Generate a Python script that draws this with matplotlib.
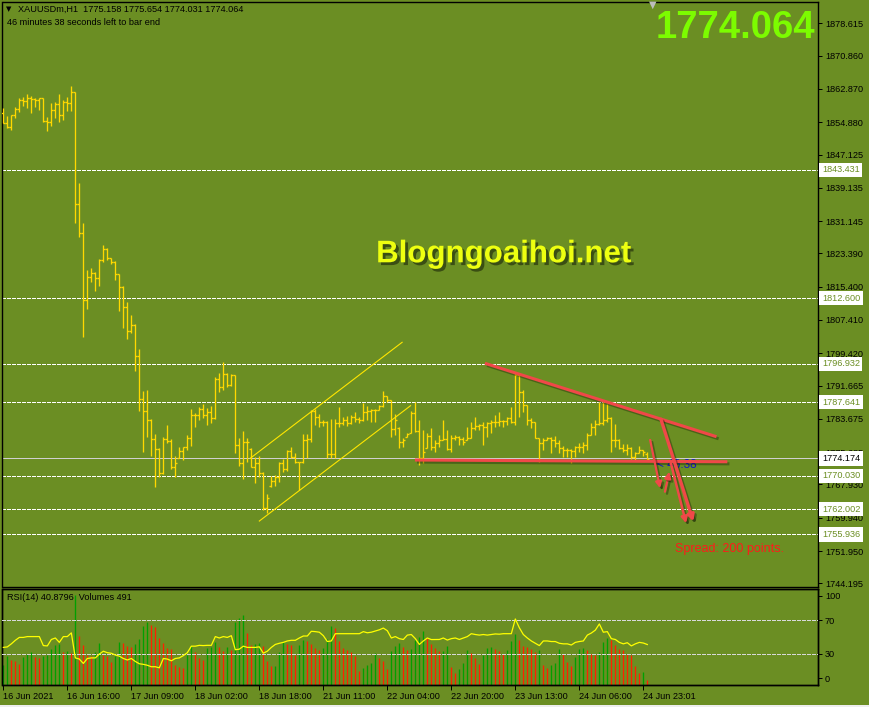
import numpy as np
import matplotlib
matplotlib.use("Agg")
import matplotlib.pyplot as plt
import matplotlib.patheffects as pe
from matplotlib.patches import Rectangle

# ---------------- data ----------------
SYMBOL_HEADER = "XAUUSDm,H1  1775.158 1775.654 1774.031 1774.064"
TIMER_HEADER = "46 minutes 38 seconds left to bar end"
LAST_PRICE = "1774.064"
RSI_HEADER = "RSI(14) 40.8796  Volumes 491"

bar_open = [1857.00, 1854.61, 1853.81, 1856.61, 1857.97, 1860.21, 1859.97, 1860.61, 1860.37, 1860.21,
            1860.61, 1855.17, 1855.01, 1857.81, 1859.17, 1856.61, 1859.81, 1859.41, 1862.21, 1835.17,
            1828.21, 1812.21, 1817.65, 1818.77, 1817.41, 1821.81, 1824.37, 1822.21, 1821.41, 1818.37,
            1815.41, 1810.45, 1804.85, 1806.21, 1798.77, 1788.37, 1785.57, 1783.41, 1778.77, 1776.45,
            1770.61, 1778.85, 1778.45, 1772.21, 1774.30, 1776.05, 1776.85, 1779.01, 1784.61, 1784.61,
            1785.97, 1784.61, 1785.25, 1783.81, 1793.25, 1791.41, 1794.45, 1791.81, 1794.21, 1777.41,
            1773.17, 1778.21, 1776.50, 1772.21, 1773.01, 1770.77, 1762.21, 1767.60, 1768.85, 1769.81,
            1773.17, 1771.57, 1775.97, 1774.61, 1773.25, 1773.25, 1778.61, 1778.85, 1785.65, 1784.05,
            1783.01, 1783.01, 1775.25, 1775.25, 1782.61, 1782.77, 1783.41, 1782.77, 1784.05, 1783.57,
            1783.41, 1785.41, 1785.57, 1785.81, 1785.81, 1786.77, 1789.17, 1788.21, 1781.17, 1781.50,
            1778.05, 1779.30, 1780.30, 1785.01, 1780.77, 1774.37, 1776.70, 1779.57, 1776.85, 1777.97,
            1778.61, 1778.77, 1776.37, 1779.01, 1779.25, 1778.77, 1778.70, 1779.17, 1781.41, 1781.97,
            1782.21, 1781.65, 1782.61, 1783.01, 1783.01, 1783.25, 1783.25, 1783.81, 1783.01, 1794.21,
            1790.21, 1787.01, 1783.41, 1783.01, 1779.01, 1777.81, 1778.61, 1779.01, 1778.61, 1777.81,
            1776.61, 1776.21, 1776.21, 1776.05, 1777.01, 1777.01, 1777.41, 1779.81, 1781.81, 1782.45,
            1782.61, 1783.41, 1783.81, 1778.61, 1778.61, 1776.77, 1776.21, 1776.61, 1774.61, 1775.41,
            1776.21, 1775.158]

bar_high = [1858.21, 1856.37, 1856.61, 1858.45, 1860.61, 1861.01, 1861.65, 1861.17, 1860.61, 1860.61,
            1860.61, 1856.05, 1859.41, 1859.65, 1861.65, 1860.21, 1861.01, 1863.57, 1862.21, 1840.21,
            1830.61, 1819.41, 1819.81, 1819.01, 1822.05, 1825.41, 1824.61, 1822.21, 1821.57, 1818.45,
            1815.57, 1811.81, 1808.61, 1806.45, 1800.45, 1790.45, 1790.61, 1783.57, 1780.05, 1776.77,
            1779.41, 1782.21, 1778.85, 1774.77, 1777.01, 1777.01, 1779.81, 1786.05, 1785.17, 1786.61,
            1787.25, 1786.21, 1786.77, 1793.81, 1794.77, 1797.41, 1794.77, 1794.45, 1794.21, 1779.01,
            1780.85, 1779.01, 1776.61, 1774.61, 1774.77, 1771.01, 1765.65, 1769.97, 1770.21, 1773.25,
            1773.97, 1776.21, 1776.85, 1775.41, 1773.41, 1779.97, 1779.97, 1785.81, 1785.97, 1784.77,
            1783.41, 1783.17, 1783.57, 1783.57, 1786.45, 1784.21, 1784.37, 1784.53, 1785.41, 1784.05,
            1787.57, 1786.77, 1786.05, 1786.05, 1787.01, 1790.37, 1789.25, 1788.21, 1784.77, 1781.81,
            1779.01, 1780.21, 1785.49, 1787.73, 1783.41, 1781.01, 1780.21, 1781.41, 1778.61, 1779.81,
            1783.41, 1781.01, 1779.81, 1779.81, 1779.57, 1779.25, 1781.81, 1783.01, 1784.21, 1782.45,
            1783.01, 1783.01, 1783.41, 1784.61, 1785.41, 1783.41, 1784.21, 1786.61, 1795.01, 1794.61,
            1790.61, 1787.01, 1783.81, 1783.01, 1779.01, 1779.01, 1779.41, 1779.25, 1779.57, 1778.61,
            1777.17, 1776.77, 1776.37, 1777.17, 1777.81, 1778.21, 1780.21, 1782.77, 1783.41, 1787.81,
            1788.05, 1787.25, 1784.21, 1782.45, 1778.77, 1777.65, 1777.65, 1777.01, 1775.81, 1777.25,
            1776.21, 1775.654]

bar_low = [1854.61, 1853.41, 1853.01, 1855.81, 1857.41, 1858.77, 1858.21, 1857.01, 1858.61, 1857.81,
           1855.01, 1852.85, 1854.05, 1855.97, 1855.01, 1855.41, 1857.65, 1857.65, 1830.77, 1827.25,
           1803.41, 1809.97, 1816.61, 1814.45, 1815.65, 1821.41, 1821.81, 1820.85, 1817.01, 1809.65,
           1805.41, 1802.77, 1804.37, 1795.25, 1785.65, 1775.81, 1779.25, 1774.77, 1767.25, 1769.65,
           1770.45, 1777.81, 1771.57, 1769.65, 1774.21, 1773.81, 1776.21, 1777.25, 1781.65, 1783.41,
           1783.81, 1782.21, 1782.77, 1783.65, 1790.21, 1790.61, 1791.25, 1791.57, 1775.41, 1772.45,
           1769.17, 1773.41, 1772.05, 1768.37, 1769.81, 1761.81, 1761.01, 1767.41, 1767.57, 1768.61,
           1771.01, 1771.25, 1774.21, 1773.01, 1766.61, 1773.01, 1774.21, 1778.05, 1782.21, 1781.81,
           1781.97, 1774.21, 1774.21, 1774.21, 1781.81, 1782.21, 1782.05, 1782.45, 1783.01, 1782.77,
           1783.25, 1783.41, 1782.85, 1783.01, 1785.81, 1786.45, 1787.81, 1779.41, 1779.81, 1776.61,
           1777.01, 1779.25, 1780.21, 1780.61, 1772.61, 1773.01, 1776.61, 1776.21, 1775.81, 1777.01,
           1778.61, 1776.21, 1775.81, 1778.61, 1777.41, 1777.41, 1778.61, 1779.01, 1781.01, 1781.01,
           1777.41, 1779.41, 1780.21, 1781.81, 1781.97, 1781.81, 1782.21, 1782.61, 1782.21, 1784.21,
           1785.41, 1782.21, 1781.41, 1779.01, 1773.41, 1776.21, 1778.61, 1775.41, 1777.01, 1775.41,
           1774.45, 1774.61, 1773.01, 1774.61, 1775.81, 1775.41, 1776.21, 1779.81, 1779.81, 1782.21,
           1782.21, 1782.97, 1775.81, 1776.85, 1776.37, 1775.81, 1775.01, 1774.05, 1773.81, 1775.41,
           1774.77, 1774.031]

bar_close = [1854.61, 1853.81, 1856.61, 1857.97, 1860.21, 1859.97, 1860.61, 1860.37, 1860.21, 1860.61,
             1855.17, 1855.01, 1857.81, 1859.17, 1856.61, 1859.81, 1859.41, 1862.21, 1835.17, 1828.21,
             1812.21, 1817.65, 1818.77, 1817.41, 1821.81, 1824.37, 1822.21, 1821.41, 1818.37, 1815.41,
             1810.45, 1804.85, 1806.21, 1798.77, 1788.37, 1785.57, 1783.41, 1778.77, 1776.45, 1770.61,
             1778.85, 1778.45, 1772.21, 1773.17, 1776.05, 1776.85, 1779.01, 1784.61, 1784.61, 1785.97,
             1784.61, 1785.25, 1783.81, 1793.25, 1791.41, 1794.45, 1791.81, 1794.21, 1777.41, 1773.17,
             1778.21, 1778.21, 1772.21, 1773.01, 1770.77, 1762.21, 1764.61, 1768.85, 1769.81, 1773.17,
             1771.57, 1775.97, 1774.61, 1773.25, 1773.25, 1778.61, 1778.85, 1785.65, 1784.05, 1783.01,
             1783.01, 1775.25, 1775.25, 1782.61, 1782.77, 1783.41, 1782.77, 1784.05, 1783.57, 1783.41,
             1785.41, 1785.57, 1785.81, 1785.81, 1786.77, 1789.17, 1788.21, 1781.17, 1783.41, 1778.05,
             1778.61, 1779.97, 1785.01, 1780.77, 1774.37, 1775.81, 1779.57, 1776.85, 1777.97, 1778.61,
             1778.77, 1776.37, 1779.01, 1779.25, 1778.77, 1778.21, 1779.17, 1781.41, 1781.97, 1782.21,
             1781.65, 1782.61, 1783.01, 1783.01, 1783.25, 1783.25, 1783.81, 1783.01, 1794.21, 1790.21,
             1787.01, 1783.41, 1783.01, 1779.01, 1777.81, 1778.61, 1779.01, 1778.61, 1777.81, 1776.61,
             1776.21, 1776.21, 1776.05, 1777.01, 1777.01, 1777.41, 1779.81, 1781.81, 1782.45, 1782.61,
             1783.41, 1783.81, 1778.61, 1778.61, 1776.77, 1776.21, 1776.61, 1774.61, 1775.41, 1776.21,
             1775.81, 1774.064]

volumes = [1980, 2900, 2480, 2380, 2080, 2800, 3070, 3300, 2800, 2710,
           2900, 2970, 3560, 3960, 4030, 3300, 3370, 3200, 8910, 4850,
           3960, 2970, 2900, 3300, 4130, 2970, 2900, 2310, 2870, 4220,
           4130, 3860, 3730, 4030, 4550, 5840, 6200, 5940, 5780, 4690,
           4130, 3630, 3560, 1980, 1820, 1720, 2970, 3860, 3300, 2640,
           2480, 3700, 3800, 4290, 3800, 3400, 3800, 3470, 6270, 6600,
           6930, 5180, 4000, 4100, 4150, 3860, 2380, 1880, 1900, 3300,
           4220, 4030, 3960, 2970, 3960, 4460, 4360, 4030, 3700, 3470,
           3700, 4520, 5870, 5610, 4360, 3630, 3470, 3300, 2900, 1390,
           1650, 1980, 2180, 3140, 2710, 2380, 1580, 3370, 3890, 4130,
           3800, 3470, 3560, 4460, 4790, 5350, 4690, 4030, 3630, 3370,
           3400, 3890, 1820, 1160, 1580, 2150, 3470, 3140, 2640, 2080,
           2970, 3700, 3720, 3560, 3370, 3070, 3470, 4360, 5020, 4460,
           3860, 3800, 3560, 3300, 3470, 1980, 1650, 1980, 2210, 3560,
           3070, 2310, 1910, 2800, 3560, 3630, 3470, 3040, 2970, 3300,
           4290, 4690, 4460, 3960, 3560, 3470, 3040, 2970, 1880, 1220,
           1250, 491]

rsi = [37.4, 38.0, 41.7, 46.0, 49.5, 49.5, 50.5, 50.5, 50.5, 50.5,
       39.6, 39.2, 47.0, 48.8, 43.5, 50.5, 50.5, 55.0, 24.7, 23.3,
       18.0, 24.0, 24.7, 24.7, 29.3, 32.8, 31.0, 30.3, 28.2, 26.8,
       24.0, 22.2, 24.0, 20.4, 17.6, 16.9, 15.8, 14.0, 14.0, 12.7,
       24.0, 23.3, 21.2, 24.0, 24.7, 27.5, 31.0, 38.9, 38.9, 39.9,
       39.6, 39.9, 39.9, 50.5, 48.8, 50.5, 49.5, 51.6, 34.6, 35.3,
       38.9, 37.4, 37.4, 37.4, 38.1, 30.4, 32.8, 37.4, 41.0, 42.4,
       43.5, 45.2, 46.0, 46.0, 48.8, 51.2, 51.2, 56.9, 56.5, 55.8,
       51.6, 44.5, 45.2, 54.0, 54.0, 54.0, 54.0, 54.0, 54.0, 54.0,
       56.5, 55.1, 55.8, 57.3, 58.7, 60.8, 57.6, 48.8, 50.5, 48.0,
       47.0, 52.3, 53.0, 48.0, 41.0, 45.2, 48.8, 46.9, 47.0, 47.0,
       48.8, 46.3, 48.0, 48.8, 47.0, 48.8, 50.5, 54.0, 53.0, 52.3,
       53.0, 52.3, 53.0, 53.7, 53.4, 54.0, 54.0, 54.0, 71.8, 61.2,
       53.0, 48.8, 45.2, 42.4, 39.6, 45.2, 45.2, 44.5, 44.5, 42.4,
       41.7, 41.7, 40.3, 43.5, 44.5, 45.2, 52.3, 54.8, 58.3, 65.8,
       55.8, 56.5, 48.0, 47.0, 43.5, 41.7, 43.1, 39.2, 41.7, 43.5,
       42.7, 40.9]

price_ticks = [1878.615, 1870.860, 1862.870, 1854.880, 1847.125, 1839.135, 1831.145, 1823.390,
               1815.400, 1807.410, 1799.420, 1791.665, 1783.675, 1775.685, 1767.930, 1759.940,
               1751.950, 1744.195]
rsi_ticks = [0, 30, 70, 100]
rsi_levels = [70, 30]
time_bars = [0, 16, 32, 48, 64, 80, 96, 112, 128, 144, 160]
time_labels = ["16 Jun 2021", "16 Jun 16:00", "17 Jun 09:00", "18 Jun 02:00", "18 Jun 18:00",
               "21 Jun 11:00", "22 Jun 04:00", "22 Jun 20:00", "23 Jun 13:00", "24 Jun 06:00",
               "24 Jun 23:01"]

hlevels = [1843.431, 1812.600, 1796.932, 1787.641, 1770.030, 1762.002, 1755.936]
bid_level = 1774.174

# drawn objects (bar index, price)
channel_upper = ([61.7, 99.7], [1774.2, 1802.06])
channel_lower = ([64.0, 101.8], [1759.16, 1786.84])
red_trend = ([120.4, 178.3], [1797.02, 1779.40])
red_support = ([102.9, 181.0], [1773.81, 1773.39])
red_arrows = [((161.7, 1778.62), (164.2, 1767.02), 1.6),
              ((165.4, 1766.20), (166.5, 1771.00), 1.6),
              ((166.9, 1773.00), (170.7, 1758.60), 1.8),
              ((164.4, 1783.60), (172.5, 1759.00), 2.4)]
countdown_text = ("< 46:38", 163.4, 1772.5)
spread_text = ("Spread: 200 points.", 167.9, 1752.45)

# ---------------- styling / layout ----------------
BG = '#6B8E23'
BAR_C = '#FFD800'
RED = '#F04848'
FONT = 'Liberation Sans'
plt.rcParams['font.family'] = [FONT, 'DejaVu Sans']

W, H = 870, 707
fig = plt.figure(figsize=(W / 100, H / 100), dpi=100)
fig.patch.set_facecolor(BG)


def rect(l, t, r, b):
    return [l / W, 1 - b / H, (r - l) / W, (b - t) / H]


BAR0_PX, BAR_PX = 3.33, 4.0
XLIM = ((2.5 - BAR0_PX) / BAR_PX, (818 - BAR0_PX) / BAR_PX)
PX = 0.72  # one pixel in points
LW1 = 0.95  # mark lines (antialiased)

# ---------------- main price panel ----------------
ax = fig.add_axes(rect(2.5, 2, 818, 587))
ax.set_facecolor(BG)
ax.set_xlim(*XLIM)
ax.set_ylim(1743.33, 1883.73)
for s in ax.spines.values():
    s.set_color('black')
    s.set_linewidth(1.0)

x = np.arange(len(bar_close))
ax.vlines(x, bar_low, bar_high, color=BAR_C, lw=LW1, zorder=3)
ax.hlines(bar_open, x - 0.5, x, color=BAR_C, lw=LW1, zorder=3)
ax.hlines(bar_close, x, x + 0.5, color=BAR_C, lw=LW1, zorder=3)

for lv in hlevels:
    ax.axhline(lv, color='white', lw=PX, dashes=(4, 2), antialiased=False, zorder=2)
ax.axhline(bid_level, color='#D0D0D0', lw=PX, antialiased=False, zorder=2)

ax.yaxis.tick_right()
ax.set_yticks(price_ticks)
ax.set_yticklabels([f'{t:.3f}' for t in price_ticks])
ax.tick_params(axis='y', direction='out', length=3, width=PX, pad=2, labelsize=6.6,
               colors='black')
ax.set_xticks([])

box_kw = dict(xycoords=('axes fraction', 'data'), textcoords='offset points',
              ha='left', va='center', fontsize=6.6, annotation_clip=False, zorder=10)
for lv in hlevels:
    ax.annotate(f'{lv:.3f}', xy=(1, lv), xytext=(2.8, 0), color=BG,
                bbox=dict(boxstyle='square,pad=0.28', fc='white', ec='none'), **box_kw)
ax.annotate(f'{bid_level:.3f}', xy=(1, bid_level), xytext=(2.8, 0), color='black',
            bbox=dict(boxstyle='square,pad=0.28', fc='white', ec='none'), **box_kw)

# yellow channel
ax.plot(*channel_upper, color='#FFE600', lw=0.8, zorder=4)
ax.plot(*channel_lower, color='#FFE600', lw=0.8, zorder=4)

shadow = [pe.SimpleLineShadow(offset=(1.5, -1.5), shadow_color='black', alpha=0.3), pe.Normal()]
ax.plot(*red_trend, color=RED, lw=2.2, solid_capstyle='butt', path_effects=shadow, zorder=6)
ax.plot(*red_support, color=RED, lw=2.2, solid_capstyle='butt', path_effects=shadow, zorder=6)
for start, end, lwid in red_arrows:
    an = ax.annotate('', xy=end, xytext=start,
                     arrowprops=dict(arrowstyle='-|>', color=RED, lw=lwid, mutation_scale=9,
                                     shrinkA=0, shrinkB=0), zorder=6)
    an.arrow_patch.set_path_effects(shadow)

ax.text(countdown_text[1], countdown_text[2], countdown_text[0], color='#1414C8',
        fontsize=8.5, ha='left', va='center', zorder=5)
ax.text(spread_text[1], spread_text[2], spread_text[0], color='#FF1A1A',
        fontsize=9, ha='left', va='center', zorder=5)

# ---------------- RSI / volume panel ----------------
axv = fig.add_axes(rect(2.5, 588.5, 818, 685))
axv.set_facecolor(BG)
axv.set_xlim(*XLIM)
axv.set_ylim(0, 9550)
vcols = ['#00A000' if i == 0 or volumes[i] > volumes[i - 1] else '#FF2000'
         for i in range(len(volumes))]
axv.vlines(x, 0, volumes, colors=vcols, lw=LW1, zorder=2)
for s in axv.spines.values():
    s.set_color('black')
    s.set_linewidth(1.0)
axv.set_xticks(time_bars)
axv.set_xticklabels(time_labels)
for lbl in axv.get_xticklabels():
    lbl.set_horizontalalignment('left')
axv.tick_params(axis='x', direction='out', length=3.5, width=PX, pad=1.5, labelsize=6.6,
                colors='black')

axr = axv.twinx()
axr.set_xlim(*XLIM)
axr.set_ylim(-8.1, 108.7)
axr.plot(x, rsi, color='#FFFF00', lw=0.9, zorder=4)
for lv in rsi_levels:
    axr.axhline(lv, color='#D8D8D8', lw=PX, dashes=(4, 2), antialiased=False, zorder=3)
axr.set_yticks(rsi_ticks)
axr.set_yticklabels([str(t) for t in rsi_ticks])
axr.tick_params(axis='y', direction='out', length=3, width=PX, pad=2, labelsize=6.6,
                colors='black')
axv.set_yticks([])
for s in axr.spines.values():
    s.set_color('black')
    s.set_linewidth(1.0)


# ---------------- figure texts ----------------
def ft(xp, yp, s, **kw):
    return fig.text(xp / W, 1 - yp / H, s, **kw)


ft(9, 9.5, '\u25BC', fontsize=5, family='DejaVu Sans', ha='center', va='center', color='black')
ft(18.3, 9.5, SYMBOL_HEADER, fontsize=6.6, ha='left', va='center', color='black')
ft(6.7, 22.8, TIMER_HEADER, fontsize=6.6, ha='left', va='center', color='black')
ft(7.3, 597.7, RSI_HEADER, fontsize=6.6, ha='left', va='center', color='black')
ft(653, 5, '\u25BC', fontsize=7, family='DejaVu Sans', ha='center', va='center', color='#BDBDBD')

ft(815, 38.3, LAST_PRICE, fontsize=27.5, fontweight='bold', color='#7CFC00', ha='right',
   va='baseline')
ft(503.7, 262.3, 'Blogngoaihoi.net', fontsize=22.5, fontweight='bold', color='#EEFF10',
   ha='center', va='baseline',
   path_effects=[pe.withSimplePatchShadow(offset=(2, -2), shadow_rgbFace='black', alpha=0.45)])

fig.add_artist(Rectangle((0, 0), 1, 2 / H, transform=fig.transFigure, color='#EEEEEE', lw=0))

fig.savefig('out.png', dpi=100, facecolor=BG)
